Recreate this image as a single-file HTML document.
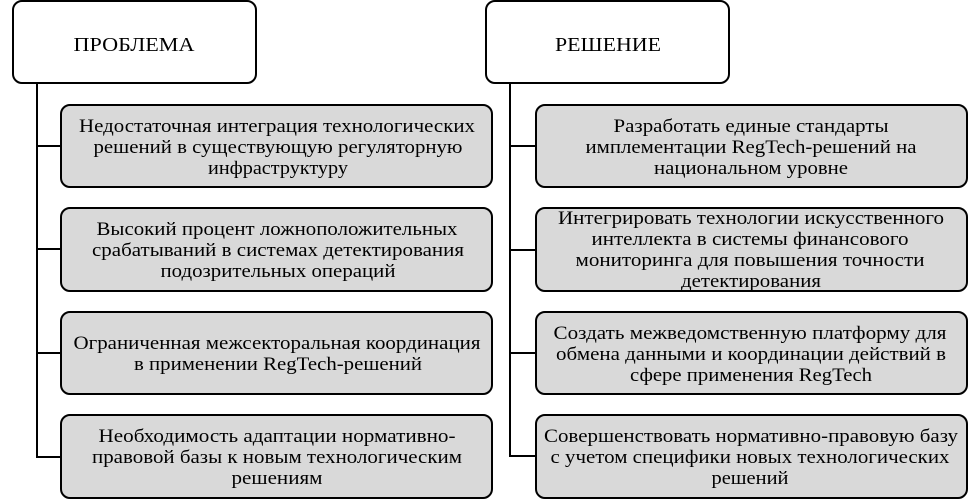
<!DOCTYPE html>
<html><head><meta charset="utf-8"><style>
html,body{margin:0;padding:0;background:#fff;}
svg{display:block;}
text{font-family:"Liberation Serif","DejaVu Serif","Noto Serif CJK SC",serif;font-size:19px;fill:#000;}
</style></head><body>
<svg width="977" height="502" viewBox="0 0 977 502">
<g fill="none" stroke="#000" stroke-width="2">
<rect x="13" y="1" width="243" height="82" rx="9" fill="#fff"/>
<rect x="486" y="1" width="243" height="82" rx="9" fill="#fff"/>
<path d="M37 83 V457 H61 M37 146 H61 M37 249 H61 M37 353 H61"/>
<path d="M510 83 V456 H536 M510 146 H536 M510 250 H536 M510 353 H536"/>
<g fill="#d9d9d9">
<rect x="61" y="105" width="431" height="82" rx="9"/>
<rect x="61" y="208" width="431" height="83" rx="9"/>
<rect x="61" y="312" width="431" height="82" rx="9"/>
<rect x="61" y="415" width="431" height="83" rx="9"/>
<rect x="536" y="105" width="431" height="82" rx="9"/>
<rect x="536" y="208" width="431" height="83" rx="9"/>
<rect x="536" y="312" width="431" height="82" rx="9"/>
<rect x="536" y="415" width="431" height="83" rx="9"/>
</g>
</g>
<g text-anchor="middle" lengthAdjust="spacingAndGlyphs">
<text x="134" y="51" style="font-size:20px" textLength="121" lengthAdjust="spacingAndGlyphs">ПРОБЛЕМА</text>
<text x="608" y="51" style="font-size:20px" textLength="106" lengthAdjust="spacingAndGlyphs">РЕШЕНИЕ</text>
<text x="277" y="132" textLength="396" lengthAdjust="spacingAndGlyphs">Недостаточная интеграция технологических</text>
<text x="278" y="153" textLength="369" lengthAdjust="spacingAndGlyphs">решений в существующую  регуляторную</text>
<text x="278" y="174" textLength="140" lengthAdjust="spacingAndGlyphs">инфраструктуру</text>
<text x="277" y="235" textLength="361" lengthAdjust="spacingAndGlyphs">Высокий процент ложноположительных</text>
<text x="278" y="256" textLength="372" lengthAdjust="spacingAndGlyphs">срабатываний в системах детектирования</text>
<text x="278" y="277" textLength="235" lengthAdjust="spacingAndGlyphs">подозрительных операций</text>
<text x="277" y="349" textLength="407" lengthAdjust="spacingAndGlyphs">Ограниченная межсекторальная координация</text>
<text x="278" y="370" textLength="288" lengthAdjust="spacingAndGlyphs">в применении RegTech-решений</text>
<text x="277" y="442" textLength="357" lengthAdjust="spacingAndGlyphs">Необходимость адаптации нормативно-</text>
<text x="277" y="463" textLength="370" lengthAdjust="spacingAndGlyphs">правовой базы к новым технологическим</text>
<text x="277" y="484" textLength="91" lengthAdjust="spacingAndGlyphs">решениям</text>
<text x="751" y="132" textLength="275" lengthAdjust="spacingAndGlyphs">Разработать единые стандарты</text>
<text x="751" y="153" textLength="331" lengthAdjust="spacingAndGlyphs">имплементации RegTech-решений на</text>
<text x="751" y="174" textLength="194" lengthAdjust="spacingAndGlyphs">национальном уровне</text>
<text x="751" y="224" textLength="386" lengthAdjust="spacingAndGlyphs">Интегрировать технологии искусственного</text>
<text x="750" y="245" textLength="317" lengthAdjust="spacingAndGlyphs">интеллекта в системы финансового</text>
<text x="750" y="266" textLength="349" lengthAdjust="spacingAndGlyphs">мониторинга для повышения точности</text>
<text x="751" y="287" textLength="140" lengthAdjust="spacingAndGlyphs">детектирования</text>
<text x="750" y="339" textLength="393" lengthAdjust="spacingAndGlyphs">Создать межведомственную платформу для</text>
<text x="751" y="360" textLength="390" lengthAdjust="spacingAndGlyphs">обмена данными и координации действий в</text>
<text x="751" y="381" textLength="242" lengthAdjust="spacingAndGlyphs">сфере применения RegTech</text>
<text x="751" y="442" textLength="414" lengthAdjust="spacingAndGlyphs">Совершенствовать нормативно-правовую базу</text>
<text x="750" y="463" textLength="399" lengthAdjust="spacingAndGlyphs">с учетом специфики новых технологических</text>
<text x="750" y="484" textLength="77" lengthAdjust="spacingAndGlyphs">решений</text>
</g>
</svg>
</body></html>
